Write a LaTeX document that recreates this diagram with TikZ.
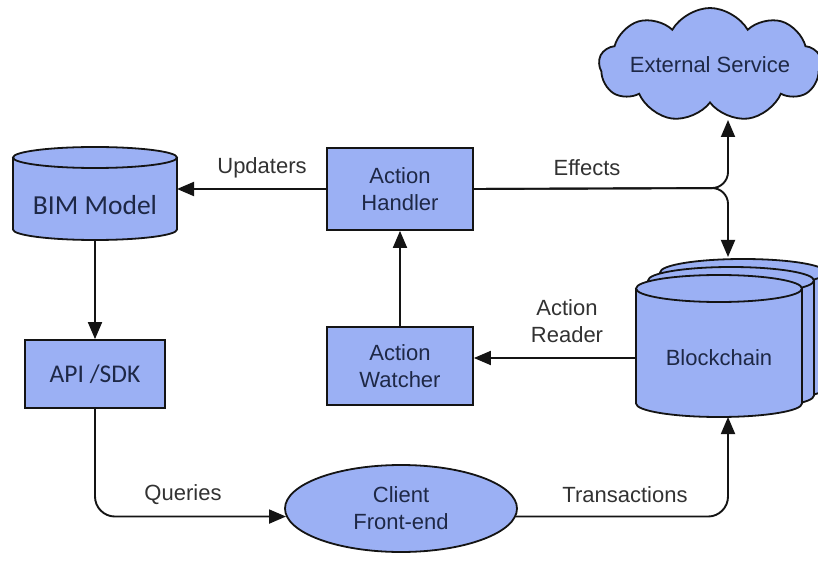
\documentclass[tikz,border=0pt]{standalone}
\usepackage{fontspec}
\setmainfont{Liberation Sans}
\newfontfamily\calib{Carlito}
\usetikzlibrary{shapes.symbols,shapes.geometric,arrows.meta}
\definecolor{boxblue}{RGB}{155,176,244}
\definecolor{inktext}{RGB}{30,40,70}
\definecolor{lbltext}{RGB}{50,50,50}
\definecolor{edge}{RGB}{20,20,20}
\newcommand\dbcyl[5]{%
  \fill[boxblue] (#1-#4,#2) -- (#1-#4,#3) arc[start angle=180,end angle=360,x radius=#4,y radius=#5] -- (#1+#4,#2) arc[start angle=0,end angle=180,x radius=#4,y radius=#5] -- cycle;
  \draw[line width=1.8pt,draw=edge] (#1-#4,#2) -- (#1-#4,#3) arc[start angle=180,end angle=360,x radius=#4,y radius=#5] -- (#1+#4,#2);
  \draw[line width=1.8pt,draw=edge] (#1,#2) ellipse[x radius=#4,y radius=#5];}
\begin{document}
\begin{tikzpicture}[x=1pt,y=1pt,
  box/.style={draw=edge, line width=1.8pt, fill=boxblue, text=inktext, font=\fontsize{22}{27}\selectfont, align=center, inner sep=0pt},
  anchorbox/.style={inner sep=0pt, outer sep=0pt},
  arr/.style={line width=1.9pt, draw=edge, -{Triangle[length=17pt,width=14pt]}},
  lbl/.style={text=lbltext, font=\fontsize{22}{27}\selectfont, align=center}]
\useasboundingbox (0,0) rectangle (818,568);

% BIM cylinder
\dbcyl{95}{410.5}{338.5}{82}{10.5}
\node[anchorbox, minimum width=164pt, minimum height=93pt] (bim) at (95,374.5) {};
\node[text=inktext, font=\calib\fontsize{27.5}{32}\selectfont] (bimtext) at (95,363) {BIM Model};

% Blockchain stack
\dbcyl{743}{295.5}{180.5}{83}{13.5}
\dbcyl{731}{287.5}{172.5}{83}{13.5}
\dbcyl{719}{279.5}{164.5}{83}{13.5}
\node[anchorbox, minimum width=166pt, minimum height=142pt] (bc) at (719,222) {};
\node[text=inktext, font=\fontsize{22}{27}\selectfont] (bctext) at (719,210) {Blockchain};

% other nodes
\node[box, minimum width=140pt, minimum height=68pt, font=\calib\fontsize{25.5}{30}\selectfont] (api) at (95,194) {API /SDK};
\node[box, minimum width=146pt, minimum height=82pt] (ah) at (400,379) {Action\\Handler};
\node[box, minimum width=146pt, minimum height=78pt] (aw) at (400,202) {Action\\Watcher};
\node[box, ellipse, minimum width=232pt, minimum height=87pt] (ce) at (401,59.5) {Client\\Front-end};
\node[box, cloud, cloud puffs=9, cloud puff arc=120, cloud ignores aspect, minimum width=222pt, minimum height=114pt] (cl) at (710,503) {External Service};

% connectors
\coordinate (fork) at (728,380);
\coordinate (cltip) at (728,448);
\coordinate (bctop) at (728,311);
\draw[arr] (ah.west) -- (ah.west -| bim.east);
\draw[arr] (bim.south) -- (api.north);
\draw[arr] (aw.north) -- (ah.south);
\draw[arr] ([yshift=-12pt]bc.west) -- ([yshift=-12pt]bc.west -| aw.east);
\draw[arr, rounded corners=16pt] (ah.east) -- (fork) -- (cltip);
\draw[arr, rounded corners=16pt] (ah.east) -- (fork) -- (bctop);
\draw[arr, rounded corners=20pt] (api.south) |- (ce.184);
\draw[arr, rounded corners=20pt] (ce.-4) -| ([xshift=9pt]bc.south);

% labels
\node[lbl] at (262,400) {Updaters};
\node[lbl] at (587,400) {Effects};
\node[lbl] at (567,247) {Action\\Reader};
\node[lbl] at (183,73) {Queries};
\node[lbl] at (625,73) {Transactions};
\end{tikzpicture}
\end{document}
